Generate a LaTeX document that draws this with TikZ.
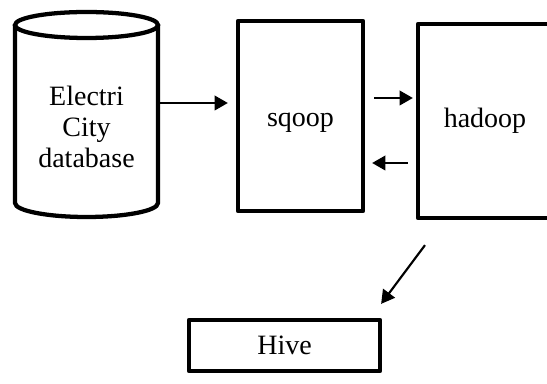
\documentclass[tikz,border=0pt]{standalone}
\usepackage{fontspec}
\setmainfont{Liberation Serif}
\usetikzlibrary{arrows.meta,calc}

\tikzset{
  heavybox/.style={draw, line width=3.2pt, line join=round, inner sep=0pt, fill=white},
  flow/.style={line width=1.6pt, -{Triangle[length=10pt,width=11pt]}},
}

\begin{document}
\begin{tikzpicture}[x=0.75pt,y=0.75pt,yscale=-1,xscale=1,font=\fontsize{21}{23.5}\selectfont]
\useasboundingbox (0,0) rectangle (547,384);
\clip (0,0) rectangle (547,384);

%Shape: Can
\draw [line width=3.2pt, line join=round] (15,25) -- (15,203) .. controls (15,210.7) and (47,217) .. (86.5,217) .. controls (126,217) and (158,210.7) .. (158,203) -- (158,25) ;
\draw [line width=3.2pt] (15,25) .. controls (15,17.8) and (47,12) .. (86.5,12) .. controls (126,12) and (158,17.8) .. (158,25) .. controls (158,32.2) and (126,38) .. (86.5,38) .. controls (47,38) and (15,32.2) .. (15,25) -- cycle ;

% Nodes
\node [minimum width=107.25pt, minimum height=135pt, inner sep=0pt, align=center] (db) at (86.5,127) {Electri\\City\\database};
\node [heavybox, minimum width=93.75pt, minimum height=142.5pt] (sqoop) at (300.5,116) {\raisebox{-8pt}[0pt][0pt]{sqoop}\hspace{12pt}};
\node [heavybox, minimum width=100.5pt, minimum height=145.5pt] (hadoop) at (485,121) {hadoop};
\node [heavybox, minimum width=143.25pt, minimum height=38.25pt] (hive) at (284.5,345.5) {Hive};

% Arrows
\draw [flow] ($(db.east)+(0,-24)$) -- ($(sqoop.west)+(-8,-13)$) ;
\draw [flow] ($(sqoop.east)+(9,-18)$) -- ($(hadoop.west)+(-3,-23)$) ;
\draw [flow] ($(hadoop.west)+(-8,42)$) -- ($(sqoop.east)+(7,47)$) ;
\coordinate (hd out) at ($(hadoop.south)+(-60,25)$);
\coordinate (hv in) at ($(hive.north east)+(-1,-14)$);
\draw [flow] (hd out) -- (hv in) ;

\end{tikzpicture}
\end{document}
